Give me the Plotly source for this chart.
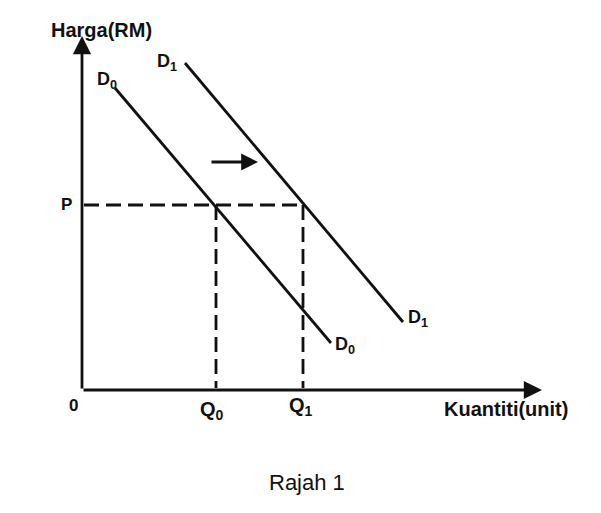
import plotly.graph_objects as go

# Coordinates in chart units: origin at the axes' corner
d0_x = [33, 249]
d0_y = [302, 47]
d1_x = [103, 321]
d1_y = [327, 68]
price_p = 185
q0 = 134
q1 = 221
x_axis_end = 460
y_axis_end = 354
shift_arrow_x = [128, 176]
shift_arrow_y = 228

fig = go.Figure()
black = "#111111"
lw = 2.8
dash = "15px,7px"

# demand curves
fig.add_trace(go.Scatter(x=d0_x, y=d0_y, mode="lines", line=dict(color=black, width=lw)))
fig.add_trace(go.Scatter(x=d1_x, y=d1_y, mode="lines", line=dict(color=black, width=lw)))
# dashed guides
fig.add_trace(go.Scatter(x=[2, q1], y=[price_p, price_p], mode="lines",
                         line=dict(color=black, width=lw, dash=dash)))
fig.add_trace(go.Scatter(x=[q0, q0], y=[price_p, 2], mode="lines",
                         line=dict(color=black, width=lw, dash=dash)))
fig.add_trace(go.Scatter(x=[q1, q1], y=[price_p, 2], mode="lines",
                         line=dict(color=black, width=lw, dash=dash)))

# axes with arrows
for (x0, y0, x1, y1) in [(0, 0, x_axis_end, 0), (0, 0, 0, y_axis_end)]:
    fig.add_annotation(x=x1, y=y1, ax=x0, ay=y0, xref="x", yref="y", axref="x", ayref="y",
                       showarrow=True, arrowhead=2, arrowsize=1.3, arrowwidth=2.8,
                       arrowcolor=black, text="")
# shift arrow
fig.add_annotation(x=shift_arrow_x[1], y=shift_arrow_y, ax=shift_arrow_x[0], ay=shift_arrow_y,
                   xref="x", yref="y", axref="x", ayref="y",
                   showarrow=True, arrowhead=2, arrowsize=1.2, arrowwidth=2.8,
                   arrowcolor=black, text="")

font = "Liberation Sans, Arial, sans-serif"
labels = [
    ("Harga(RM)", 19, 360, 20, True),
    ("D<sub>1</sub>", 85, 328, 18, True),
    ("D<sub>0</sub>", 25, 310, 18, True),
    ("P", -16, 186, 17, True),
    ("D<sub>1</sub>", 336, 72, 18, True),
    ("D<sub>0</sub>", 263, 45, 18, True),
    ("0", -9, -15, 17, True),
    ("Q<sub>0</sub>", 130, -20, 20, True),
    ("Q<sub>1</sub>", 219, -16, 20, True),
    ("Kuantiti(unit)", 424, -19, 20, True),
    ("Rajah 1", 225, -92, 22, False),
]
for text, x, y, size, bold in labels:
    t = f"<b>{text}</b>" if bold else text
    fig.add_annotation(x=x, y=y, xref="x", yref="y", text=t, showarrow=False,
                       font=dict(family=font, size=size, color=black))

# page body has an 8px margin, so the ranges are offset to keep the origin in place
fig.update_layout(
    width=601, height=513, margin=dict(l=0, r=0, t=0, b=0),
    paper_bgcolor="white", plot_bgcolor="white", showlegend=False,
    xaxis=dict(range=[-74, 527], visible=False, fixedrange=True),
    yaxis=dict(range=[-131, 382], visible=False, fixedrange=True),
)
fig.write_html("out.html")
